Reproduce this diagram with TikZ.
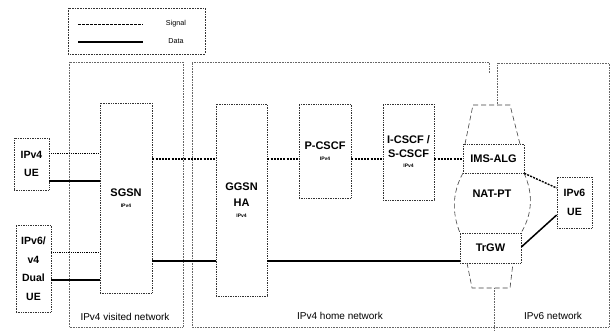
\documentclass[tikz,border=0pt]{standalone}
\usepackage{fontspec}
\setmainfont{Liberation Sans}
\begin{document}
\begin{tikzpicture}[x=1pt,y=-1pt,
  box/.style={draw=black!80, densely dotted, line width=0.7pt, fill=white, inner sep=0pt, align=center, font=\fontsize{11}{16}\selectfont\bfseries},
  uebox/.style={box, font=\fontsize{10.5}{18.5}\selectfont\bfseries},
  netline/.style={draw=black!60, densely dotted, line width=0.6pt},
  outline/.style={draw=black!75, dash pattern=on 5pt off 3pt, line width=0.6pt},
  sig/.style={line width=1.4pt, dash pattern=on 2pt off 1.2pt},
  dat/.style={line width=1.8pt},
  sigthin/.style={line width=0.8pt, densely dotted},
  datthin/.style={line width=1.1pt},
  netlabel/.style={font=\fontsize{10}{12}\selectfont},
  small/.style={font=\fontsize{5}{6}\selectfont\bfseries}
]
\useasboundingbox (0,0) rectangle (610,331);
\fill[white] (0,0) rectangle (610,331);

% legend
\draw[netline, draw=black!80] (68,8) rectangle (205,54);
\coordinate (ls1) at (78,25); \coordinate (ls2) at (143,25);
\coordinate (ld1) at (78,42); \coordinate (ld2) at (143,42);
\draw[line width=1pt, dash pattern=on 2.5pt off 1.5pt] (ls1) -- (ls2);
\draw[line width=1.5pt] (ld1) -- (ld2);
\node[font=\fontsize{7.2}{9}\selectfont] (lsig) at (176,24) {Signal};
\node[font=\fontsize{7.2}{9}\selectfont] (ldat) at (176,41) {Data};

% networks
\draw[netline] (69,62) rectangle (183,327);
\draw[netline] (489,73) -- (489,62) -- (192,62) -- (192,327) -- (609,327) -- (609,63) -- (497,63) -- (497,105);
\draw[netline] (494,288) -- (494,331);
\node[netlabel] (lvis) at (125,317) {IPv4 visited network};
\node[netlabel] (lhome) at (340,316) {IPv4 home network};
\node[netlabel] (lv6) at (553,316) {IPv6 network};

% NAT-PT outline
\draw[outline] (465,144) -- (473,105) -- (510,105) -- (520,144);
\draw[outline] (463,173) .. controls (452,193) and (452,213) .. (460,233);
\draw[outline] (524,173) .. controls (533,193) and (533,213) .. (521,233);
\draw[outline] (467,263) -- (472,288) -- (510,288) -- (513,263);
\node[font=\fontsize{11}{13}\selectfont\bfseries] (natpt) at (492,194) {NAT-PT};

% nodes
\node[uebox, minimum width=35pt, minimum height=52pt] (ue4) at (31.5,164) {IPv4\\UE};
\node[uebox, minimum width=35pt, minimum height=87pt] (ue46) at (33.5,268.5) {IPv6/\\v4\\Dual\\UE};
\node[box, minimum width=52pt, minimum height=190pt] (sgsn) at (126,198) {SGSN\\[-5pt]{\fontsize{5}{6}\selectfont IPv4}};
\node[box, minimum width=51pt, minimum height=192pt] (ggsn) at (241.5,200) {GGSN\\HA\\[-5pt]{\fontsize{5}{6}\selectfont IPv4}};
\node[box, minimum width=52pt, minimum height=94pt] (pcscf) at (325,151) {P-CSCF\\[-5pt]{\fontsize{5}{6}\selectfont IPv4}};
\node[box, minimum width=51pt, minimum height=96pt] (icscf) at (408.5,152) {I-CSCF /\\[-2pt]S-CSCF\\[-6pt]{\fontsize{5}{6}\selectfont IPv4}};
\node[box, minimum width=61pt, minimum height=29pt] (ims) at (493.5,158.5) {IMS-ALG};
\node[box, minimum width=61pt, minimum height=30pt] (trgw) at (490.5,248) {TrGW};
\node[uebox, minimum width=35pt, minimum height=51pt] (ue6) at (574.5,202.5) {IPv6\\UE};

% UE links
\draw[sigthin] (ue4.east |- 0,153) -- (sgsn.west |- 0,153);
\draw[datthin] (ue4.east |- 0,181) -- (sgsn.west |- 0,181);
\draw[sigthin] (ue46.east |- 0,252) -- (sgsn.west |- 0,252);
\draw[datthin] (ue46.east |- 0,280) -- (sgsn.west |- 0,280);

% signal chain
\draw[sig] (sgsn.east |- 0,159) -- (ggsn.west |- 0,159);
\draw[sig] (ggsn.east |- 0,159) -- (pcscf.west |- 0,159);
\draw[sig] (pcscf.east |- 0,159) -- (icscf.west |- 0,159);
\draw[sig] (icscf.east |- 0,159) -- (ims.west |- 0,159);
\draw[sig] (ims.south east) -- (ue6.west |- 0,188);

% data chain
\draw[dat] (sgsn.east |- 0,261) -- (ggsn.west |- 0,261);
\draw[dat] (ggsn.east |- 0,261) -- (trgw.west |- 0,261);
\draw[line width=1.5pt] (trgw.east |- 0,247) -- (ue6.west |- 0,215);
\end{tikzpicture}
\end{document}
